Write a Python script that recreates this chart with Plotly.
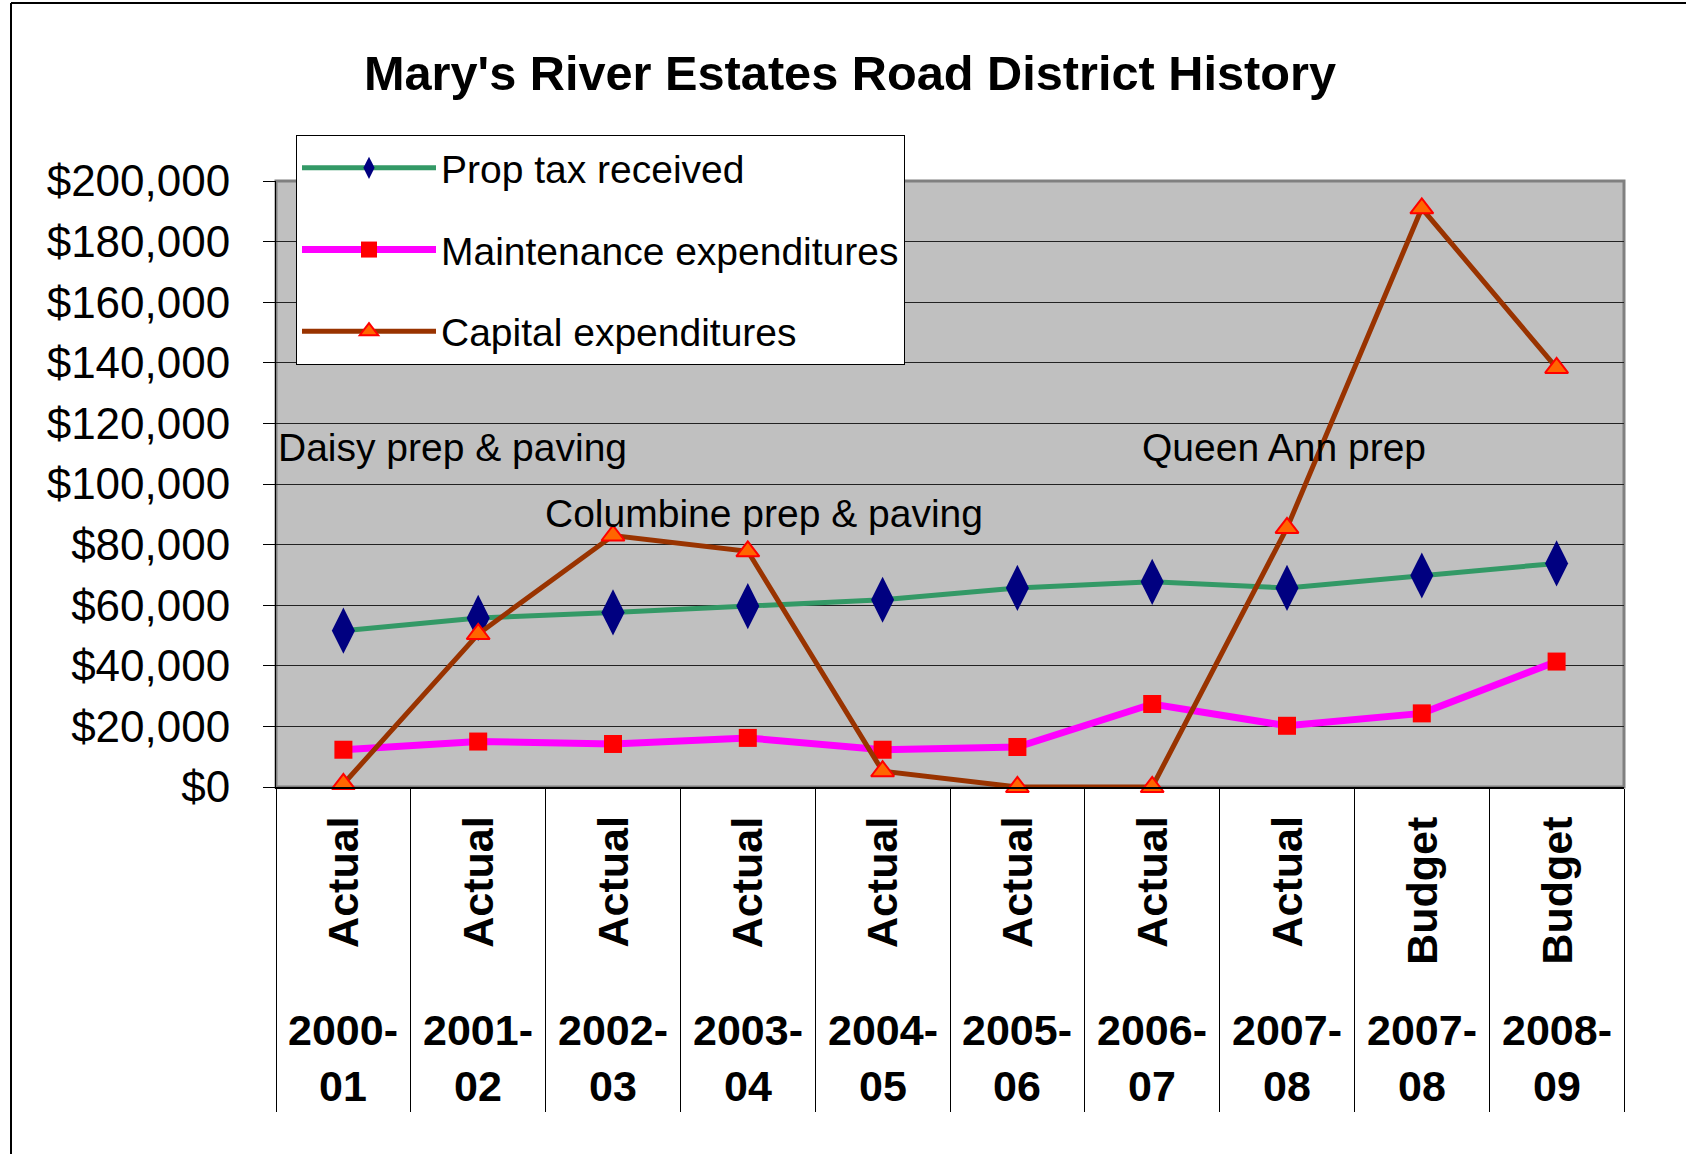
import plotly.graph_objects as go

# ---- data ----
periods = ["2000-01", "2001-02", "2002-03", "2003-04", "2004-05",
           "2005-06", "2006-07", "2007-08", "2007-08", "2008-09"]
kinds = ["Actual", "Actual", "Actual", "Actual", "Actual",
         "Actual", "Actual", "Actual", "Budget", "Budget"]
prop_tax = [51600, 55800, 57600, 59700, 61800, 65700, 67700, 65700, 69800, 73800]
maintenance = [12300, 15000, 14200, 16200, 12300, 13200, 27400, 20200, 24300, 41400]
capital = [1000, 50500, 83000, 77800, 5200, 0, 0, 85500, 191000, 138300]

notes = ["Daisy prep & paving", "Columbine prep & paving", "Queen Ann prep"]
note_x = [0.0, 0.198, 0.641]          # paper x of left edge
note_y = [112000, 90400, 112000]      # data y of centre

cats = [f"{k} {p}" for k, p in zip(kinds, periods)]

FONT = "Liberation Sans, Arial, sans-serif"

W, H = 1686, 1154
L, R, T, B = 276, 62, 181, 367
PH = H - T - B  # plot height px
PW = W - L - R

def py(pix):  # pixel y -> paper y
    return (H - B - pix) / PH

def px(pix):
    return (pix - L) / PW

fig = go.Figure()

fig.add_trace(go.Scatter(
    x=cats, y=prop_tax, name="Prop tax received", mode="lines+markers",
    line=dict(color="#339966", width=5),
    marker=dict(symbol="diamond-tall", size=33, color="#000080"),
    cliponaxis=False, legendgroup="a"))
fig.add_trace(go.Scatter(
    x=cats, y=maintenance, name="Maintenance expenditures", mode="lines+markers",
    line=dict(color="#FF00FF", width=7),
    marker=dict(symbol="square", size=18, color="#FF0000"),
    cliponaxis=False, legendgroup="b"))
fig.add_trace(go.Scatter(
    x=cats, y=capital, name="Capital expenditures", mode="lines+markers",
    line=dict(color="#993300", width=5),
    marker=dict(symbol="triangle-up", size=20, color="#FF6600",
                line=dict(color="#FF0000", width=2)),
    cliponaxis=False, legendgroup="c"))

annotations = []
for t, xx, yy in zip(notes, note_x, note_y):
    annotations.append(dict(text=t, x=xx, y=yy, xref="paper", yref="y",
                            xanchor="left", yanchor="middle", showarrow=False,
                            font=dict(size=39, family=FONT, color="black")))
for c, k, p in zip(cats, kinds, periods):
    annotations.append(dict(text=k, x=c, y=py(815), xref="x", yref="paper",
                            xanchor="center", yanchor="top", textangle=-90,
                            showarrow=False,
                            font=dict(size=43, family=FONT, color="black", weight="bold")))
    annotations.append(dict(text=p.replace("-", "-<br>"), x=c, y=py(1058), xref="x",
                            yref="paper", xanchor="center", yanchor="middle",
                            showarrow=False,
                            font=dict(size=43, family=FONT, color="black", weight="bold")))

shapes = [
    # plot area border (grey)
    dict(type="rect", xref="paper", yref="paper", x0=0, x1=1, y0=0, y1=1,
         line=dict(color="#808080", width=3), layer="below"),
    # outer frame lines
    dict(type="line", xref="paper", yref="paper", x0=px(11), x1=px(W + 5),
         y0=py(3), y1=py(3), line=dict(color="black", width=2)),
    dict(type="line", xref="paper", yref="paper", x0=px(11), x1=px(11),
         y0=py(3), y1=py(H + 5), line=dict(color="black", width=2)),
]

fig.update_layout(
    width=W, height=H,
    margin=dict(l=L, r=R, t=T, b=B, autoexpand=False),
    paper_bgcolor="white", plot_bgcolor="#C0C0C0",
    title=dict(text="Mary's River Estates Road District History",
               x=850 / W, xref="container", xanchor="center",
               y=1 - 73 / H, yref="container", yanchor="middle",
               font=dict(size=48.7, family=FONT, color="black", weight="bold")),
    font=dict(family=FONT, color="black"),
    showlegend=True,
    legend=dict(x=px(296), y=py(135), xanchor="left", yanchor="top",
                bgcolor="white", bordercolor="black", borderwidth=1,
                font=dict(size=39, family=FONT, color="black"),
                traceorder="grouped", tracegroupgap=28, itemwidth=134),
    xaxis=dict(type="category", categoryorder="array", categoryarray=cats,
               range=[-0.5, 9.5], showticklabels=False, showgrid=False,
               tickson="boundaries", ticks="outside", ticklen=323,
               tickcolor="black", tickwidth=1,
               showline=True, linecolor="black", linewidth=2, zeroline=False),
    yaxis=dict(range=[0, 200000], dtick=20000, tick0=0, tickprefix="$",
               tickformat=",d", showgrid=True, gridcolor="#222222", gridwidth=1,
               ticks="outside", ticklen=12, tickcolor="black", tickwidth=1,
               ticklabelstandoff=24,
               tickfont=dict(size=44, family=FONT, color="black"),
               showline=True, linecolor="black", linewidth=1, zeroline=False),
    annotations=annotations, shapes=shapes,
)

fig.write_html("out.html", config={"displayModeBar": False},
               post_script="document.body.style.margin='0px';document.body.style.padding='0px';")
